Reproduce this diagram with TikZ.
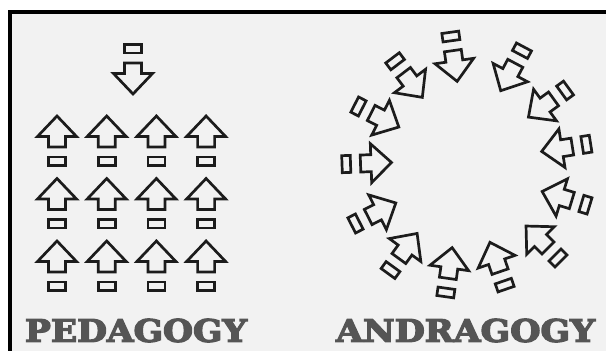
\documentclass[tikz,border=0pt]{standalone}
\usepackage{fontspec}
\usepackage{graphicx}
\newfontfamily\slabfont[FakeBold=4]{DejaVu Serif Bold}
\definecolor{paper}{HTML}{F2F2F2}
\definecolor{ink}{HTML}{1C1C1C}
\definecolor{titlegray}{HTML}{555555}
\tikzset{
  outline/.style={draw=ink, line width=2.7pt, fill=paper},
  pics/cue/.style={code={
    \draw[outline] (15.5,0) -- (-5,19.5) -- (-5,8.5) -- (-15.5,8.5) -- (-15.5,-8.5)
      -- (-5,-8.5) -- (-5,-19.5) -- cycle;
    \draw[outline] (-25.5,-8.5) rectangle (-34,8.5);
  }},
  title/.style={text=titlegray, inner sep=0pt},
}

\begin{document}
\begin{tikzpicture}[x=1pt, y=1pt]
	\useasboundingbox (0,0) rectangle (606,351);
	\fill[white] (0,0) rectangle (606,351);
	\fill[black] (8,0) rectangle (606,341);
	\fill[paper] (12,0) rectangle (606,337);
	% pedagogy: one arrow down, a grid of arrows up
	\pic[rotate=270] at (133,272.5) {cue};
	\foreach \col in {0,1,2,3}
		\foreach \row in {219.5,157,94.5}
			\pic[rotate=90] at (57+49.7*\col,\row) {cue};
	% andragogy: arrows round a ring, all pointing in
	\foreach \x/\y/\a in {455/285/278, 413/266/307, 385/231/333, 376/188/2,
		382/141/27, 408/105/54, 450/88/82, 495/94/109, 537/114/135,
		557/155/163, 557/202/189, 541/243/216, 508/274/242}
		\pic[rotate=\a] at (\x,\y) {cue};
	\node[title] (ped) at (136,20.5) {\resizebox{222pt}{23pt}{\slabfont PEDAGOGY}};
	\node[title] (andr) at (465.5,20.5) {\resizebox{259pt}{23pt}{\slabfont ANDRAGOGY}};
\end{tikzpicture}
\end{document}
